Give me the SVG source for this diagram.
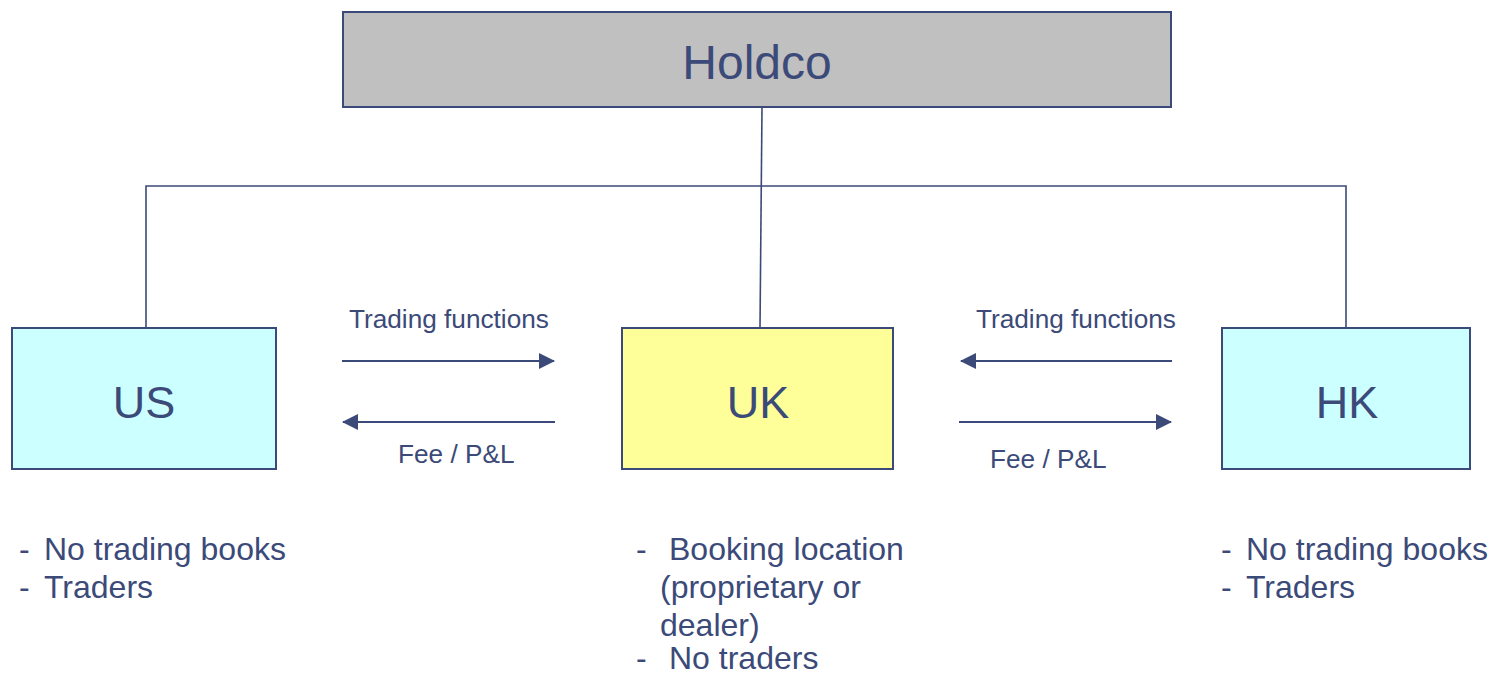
<svg xmlns="http://www.w3.org/2000/svg" width="1492" height="676" viewBox="0 0 1492 676">
  <style>
    text { font-family: "Liberation Sans", Arial, sans-serif; fill: #3b4a78; }
    .box { stroke: #3b4a78; stroke-width: 2; }
    .tree { stroke: #3b4a78; stroke-width: 1.6; fill: none; }
    .flow { stroke: #3b4a78; stroke-width: 2; fill: none; marker-end: url(#head); }
    .big { font-size: 45px; text-anchor: middle; }
    .title { font-size: 48px; text-anchor: middle; }
    .lbl { font-size: 26.2px; }
    .note { font-size: 32px; }
  </style>
  <defs>
    <marker id="head" viewBox="0 0 16 16" refX="15" refY="8" markerWidth="16" markerHeight="16" markerUnits="userSpaceOnUse" orient="auto">
      <path d="M0,0 L16,8 L0,16 Z" fill="#3b4a78"/>
    </marker>
  </defs>

  <!-- ownership tree -->
  <g id="connectors">
    <path class="tree" d="M762,107 L760,328"/>
    <path class="tree" d="M146,328 L146,186 L1346,186 L1346,328"/>
    <!-- US <-> UK flows -->
    <path class="flow" d="M342,361 L554,361"/>
    <path class="flow" d="M555,422 L343,422"/>
    <!-- HK <-> UK flows -->
    <path class="flow" d="M1172,361 L961,361"/>
    <path class="flow" d="M959,422 L1171,422"/>
  </g>

  <g id="holdco">
    <rect class="box" x="343" y="12" width="828" height="95" fill="#c0c0c0"/>
    <text class="title" x="757" y="79">Holdco</text>
  </g>

  <g id="us">
    <rect class="box" x="12" y="328" width="264" height="141" fill="#ccffff"/>
    <text class="big" x="144" y="418">US</text>
  </g>

  <g id="uk">
    <rect class="box" x="622" y="328" width="271" height="141" fill="#ffff99"/>
    <text class="big" x="758" y="418">UK</text>
  </g>

  <g id="hk">
    <rect class="box" x="1222" y="328" width="248" height="141" fill="#ccffff"/>
    <text class="big" x="1347" y="418">HK</text>
  </g>

  <!-- flow labels -->
  <g id="flow-labels">
    <text class="lbl" x="349" y="328">Trading functions</text>
    <text class="lbl" x="398" y="463">Fee / P&amp;L</text>
    <text class="lbl" x="976" y="328">Trading functions</text>
    <text class="lbl" x="990" y="468">Fee / P&amp;L</text>
  </g>

  <!-- entity notes -->
  <g id="us-notes" class="note">
    <text x="19" y="560">-</text><text x="44" y="560">No trading books</text>
    <text x="19" y="598">-</text><text x="44" y="598">Traders</text>
  </g>
  <g id="uk-notes" class="note">
    <text x="636" y="560">-</text><text x="669" y="560">Booking location</text>
    <text x="660" y="598">(proprietary or</text>
    <text x="660" y="636">dealer)</text>
    <text x="636" y="669">-</text><text x="669" y="669">No traders</text>
  </g>
  <g id="hk-notes" class="note">
    <text x="1221" y="560">-</text><text x="1246" y="560">No trading books</text>
    <text x="1221" y="598">-</text><text x="1246" y="598">Traders</text>
  </g>
</svg>
